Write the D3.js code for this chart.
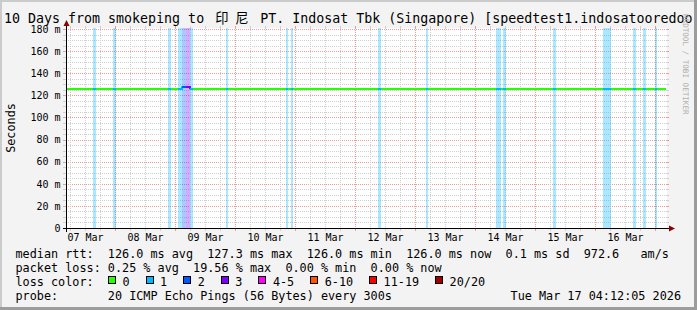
<!DOCTYPE html>
<html>
<head>
<meta charset="utf-8">
<script src="https://cdn.jsdelivr.net/npm/d3@7"></script>
<style>
    html, body { margin: 0; padding: 0; background: #f3f3f3; }
    svg { display: block; font-family: "DejaVu Sans Mono", monospace; }
</style>
</head>
<body>
<div id="chart"></div>
<script>
// Time range of the graph (10 days)
const startTime = '2026-03-07 04:12:05';
const endTime = '2026-03-17 04:12:05';

// Median rtt (ms), step changes
const rttTimes = ['2026-03-07 04:12:05', '2026-03-09 02:30:00', '2026-03-09 05:50:00', '2026-03-17 04:12:05'];
const rttValues = [126.0, 127.3, 126.0, 126.0];

// Packet loss periods (level = index into lossColors)
const lossStarts = [
    '2026-03-07 14:50:00', '2026-03-07 23:05:00', '2026-03-08 20:50:00', '2026-03-09 01:05:00',
    '2026-03-09 02:30:00', '2026-03-09 04:12:00', '2026-03-09 05:50:00', '2026-03-09 20:05:00',
    '2026-03-10 20:05:00', '2026-03-10 22:05:00', '2026-03-12 09:05:00', '2026-03-13 04:05:00',
    '2026-03-14 08:12:00', '2026-03-14 11:00:00', '2026-03-15 06:53:00', '2026-03-16 03:00:00',
    '2026-03-16 15:00:00', '2026-03-16 18:53:00', '2026-03-16 23:55:00'
];
const lossEnds = [
    '2026-03-07 16:05:00', '2026-03-08 00:05:00', '2026-03-08 22:10:00', '2026-03-09 02:30:00',
    '2026-03-09 04:12:00', '2026-03-09 05:50:00', '2026-03-09 06:53:00', '2026-03-09 20:53:00',
    '2026-03-10 21:00:00', '2026-03-10 22:53:00', '2026-03-12 10:12:00', '2026-03-13 05:00:00',
    '2026-03-14 10:12:00', '2026-03-14 12:12:00', '2026-03-15 08:05:00', '2026-03-16 06:05:00',
    '2026-03-16 16:12:00', '2026-03-16 20:05:00', '2026-03-17 00:43:00'
];
const lossLevels = [1, 1, 1, 1, 2, 3, 1, 1, 1, 1, 1, 1, 1, 1, 1, 1, 1, 1, 1];

// Loss colour legend
const lossLabels = ['0', '1', '2', '3', '4-5', '6-10', '11-19', '20/20'];
const lossColors = ['#26ff00', '#00b8ff', '#0059ff', '#7e00ff', '#ff00ff', '#ff5500', '#ff0000', '#a10000'];

// Axis ticks
const yTicks = [0, 20, 40, 60, 80, 100, 120, 140, 160, 180];
const yTickLabels = ['0', '20 m', '40 m', '60 m', '80 m', '100 m', '120 m', '140 m', '160 m', '180 m'];
const dayLabels = ['07 Mar', '08 Mar', '09 Mar', '10 Mar', '11 Mar', '12 Mar', '13 Mar', '14 Mar', '15 Mar', '16 Mar'];

// Legend text
const titleStart = '10 Days from smokeping to ';
const titleCjk = '印尼';
const titleEnd = ' PT. Indosat Tbk (Singapore) [speedtest1.indosatooredoo.com]';
const legendRows = [
    'median rtt:  126.0 ms avg  127.3 ms max  126.0 ms min  126.0 ms now  0.1 ms sd  972.6   am/s',
    'packet loss: 0.25 % avg  19.56 % max  0.00 % min  0.00 % now',
    'loss color:',
    'probe:       20 ICMP Echo Pings (56 Bytes) every 300s'
];
const dateStamp = 'Tue Mar 17 04:12:05 2026';

// Layout
const W = 697, H = 310;
const plot = { left: 66, right: 666, top: 29, bottom: 228 };
const charW = 7.1;

const parse = d3.timeParse('%Y-%m-%d %H:%M:%S');
const t0 = parse(startTime), t1 = parse(endTime);

const x = d3.scaleTime().domain([t0, t1]).range([plot.left, plot.right]);
const y = d3.scaleLinear().domain([0, 180]).range([plot.bottom, plot.top]);

const svg = d3.select('#chart').append('svg')
    .attr('width', W)
    .attr('height', H);

// Canvas background and shaded border
svg.append('rect').attr('width', W).attr('height', H).attr('fill', '#f3f3f3');

// Plot background
svg.append('rect')
    .attr('x', plot.left)
    .attr('y', plot.top - 1)
    .attr('width', plot.right - plot.left + 1)
    .attr('height', plot.bottom - plot.top + 1)
    .attr('fill', '#ffffff');

// Grid
const grid = svg.append('g').attr('shape-rendering', 'crispEdges');
const minorY = d3.range(0, 181, 5).filter(v => v % 20 !== 0);
const minorX = d3.timeHour.every(6).range(t0, t1).filter(d => d.getHours() !== 0);
const majorX = d3.timeDay.range(t0, t1);

function hLine(v, color) {
    const yy = Math.round(y(v)) + 0.5;
    grid.append('line').attr('x1', plot.left).attr('x2', plot.right + 1)
        .attr('y1', yy).attr('y2', yy)
        .attr('stroke', color).attr('stroke-dasharray', '1,1');
    grid.append('line').attr('x1', plot.left - 3).attr('x2', plot.left)
        .attr('y1', yy).attr('y2', yy).attr('stroke', color);
    grid.append('line').attr('x1', plot.right + 1).attr('x2', plot.right + 3)
        .attr('y1', yy).attr('y2', yy).attr('stroke', color);
}
function vLine(d, color) {
    const xx = Math.round(x(d)) + 0.5;
    grid.append('line').attr('x1', xx).attr('x2', xx)
        .attr('y1', plot.top - 1).attr('y2', plot.bottom)
        .attr('stroke', color).attr('stroke-dasharray', '1,1');
    grid.append('line').attr('x1', xx).attr('x2', xx)
        .attr('y1', plot.bottom).attr('y2', plot.bottom + 3).attr('stroke', color);
    grid.append('line').attr('x1', xx).attr('x2', xx)
        .attr('y1', plot.top - 3).attr('y2', plot.top - 1).attr('stroke', color);
}
minorY.forEach(v => hLine(v, '#cfcfcf'));
yTicks.forEach(v => hLine(v, '#f09a9a'));
minorX.forEach(d => vLine(d, '#cfcfcf'));
majorX.forEach(d => vLine(d, '#f09a9a'));

// Loss background bars
const lossData = lossStarts.map((s, i) => ({ s: parse(s), e: parse(lossEnds[i]), level: lossLevels[i] }));

svg.append('g').attr('class', 'loss-bars')
    .selectAll('rect')
    .data(lossData)
    .join('rect')
    .attr('x', d => Math.round(x(d.s)))
    .attr('width', d => Math.max(1, Math.round(x(d.e)) - Math.round(x(d.s))))
    .attr('y', plot.top - 1)
    .attr('height', plot.bottom - plot.top + 1)
    .attr('fill', d => lossColors[d.level])
    .attr('fill-opacity', 0.33)
    .attr('shape-rendering', 'crispEdges');

// Median rtt line
const rttData = rttTimes.map((t, i) => ({ t: parse(t), v: rttValues[i] }));
function rttAt(t) {
    let v = rttData[0].v;
    rttData.forEach(p => { if (p.t <= t) v = p.v; });
    return v;
}
const line = d3.line()
    .x(d => x(d.t))
    .y(d => Math.round(y(d.v)))
    .curve(d3.curveStepAfter);

svg.append('path')
    .datum(rttData)
    .attr('d', line)
    .attr('fill', 'none')
    .attr('stroke', lossColors[0])
    .attr('stroke-width', 2)
    .attr('shape-rendering', 'crispEdges');

// Loss-coloured segments of the median line
svg.append('g').selectAll('path')
    .data(lossData)
    .join('path')
    .attr('d', d => {
        const pts = [{ t: d.s, v: rttAt(d.s) }];
        rttData.forEach(p => { if (p.t > d.s && p.t < d.e) pts.push(p); });
        pts.push({ t: d.e, v: rttAt(d.e) });
        return line(pts);
    })
    .attr('fill', 'none')
    .attr('stroke', d => lossColors[d.level])
    .attr('stroke-width', 2)
    .attr('shape-rendering', 'crispEdges');

// Axes
const axisColor = '#000';
const arrowColor = '#8b0000';
svg.append('line')
    .attr('x1', plot.left + 0.5).attr('x2', plot.left + 0.5)
    .attr('y1', 25).attr('y2', plot.bottom + 4)
    .attr('stroke', axisColor);
svg.append('line')
    .attr('x1', plot.left - 3).attr('x2', 670)
    .attr('y1', plot.bottom + 0.5).attr('y2', plot.bottom + 0.5)
    .attr('stroke', axisColor);
svg.append('path')
    .attr('d', `M${plot.left + 0.5},20 L${plot.left + 3.5},26 L${plot.left - 2.5},26 Z`)
    .attr('fill', arrowColor);
svg.append('path')
    .attr('d', `M675,${plot.bottom + 0.5} L669,${plot.bottom - 2.5} L669,${plot.bottom + 3.5} Z`)
    .attr('fill', arrowColor);

// Y tick labels
svg.append('g').selectAll('text')
    .data(yTicks)
    .join('text')
    .attr('x', 60.5)
    .attr('y', d => y(d) + 3.8)
    .attr('text-anchor', 'end')
    .attr('font-size', 10)
    .attr('fill', '#000')
    .text((d, i) => yTickLabels[i]);

// X tick labels (centred at noon of each day)
const labelDays = d3.timeDay.range(d3.timeDay.floor(t0), t1).slice(0, dayLabels.length);
svg.append('g').selectAll('text')
    .data(labelDays)
    .join('text')
    .attr('x', d => x(d3.timeHour.offset(d, 12)))
    .attr('y', 241)
    .attr('text-anchor', 'middle')
    .attr('font-size', 10)
    .attr('fill', '#000')
    .text((d, i) => dayLabels[i]);

// Y axis title
svg.append('text')
    .attr('transform', 'translate(15,128) rotate(-90)')
    .attr('text-anchor', 'middle')
    .attr('font-size', 11.8)
    .attr('fill', '#000')
    .text('Seconds');

// Title
const title = svg.append('text')
    .attr('x', 4)
    .attr('y', 23)
    .attr('font-size', 13.3)
    .attr('fill', '#000')
    .attr('xml:space', 'preserve');
title.append('tspan').text(titleStart);
title.append('tspan')
    .attr('font-family', '"Noto Sans CJK SC", sans-serif')
    .attr('dx', 3)
    .attr('letter-spacing', 6.7)
    .text(titleCjk);
title.append('tspan').attr('dx', -3).text(titleEnd);

// Legend rows
const rowY = [257.5, 271.7, 285.9, 300];
svg.append('g').selectAll('text')
    .data(legendRows)
    .join('text')
    .attr('x', 15.5)
    .attr('y', (d, i) => rowY[i])
    .attr('font-size', 11.8)
    .attr('fill', '#000')
    .attr('xml:space', 'preserve')
    .text(d => d);

// Loss colour swatches
let lx = 108;
const swatches = svg.append('g');
lossLabels.forEach((lab, i) => {
    swatches.append('rect')
        .attr('x', lx + 0.5).attr('y', 276.5)
        .attr('width', 7).attr('height', 7)
        .attr('fill', lossColors[i])
        .attr('stroke', '#000')
        .attr('shape-rendering', 'crispEdges');
    swatches.append('text')
        .attr('x', lx + 14.5)
        .attr('y', rowY[2])
        .attr('font-size', 11.8)
        .attr('fill', '#000')
        .text(lab);
    lx = lx + 14.5 + lab.length * charW + 16;
});

// Date stamp
svg.append('text')
    .attr('x', 681)
    .attr('y', rowY[3])
    .attr('text-anchor', 'end')
    .attr('font-size', 11.8)
    .attr('fill', '#000')
    .text(dateStamp);

// Watermark
svg.append('text')
    .attr('transform', 'translate(683,14) rotate(90)')
    .attr('font-size', 7.6)
    .attr('fill', '#b0b0b0')
    .text('RRDTOOL / TOBI OETIKER');

// Shaded border
svg.append('rect').attr('x', 0).attr('y', 0).attr('width', W).attr('height', 2).attr('fill', '#cbcbcb');
svg.append('rect').attr('x', 0).attr('y', 0).attr('width', 2).attr('height', H).attr('fill', '#cbcbcb');
svg.append('rect').attr('x', W - 3).attr('y', 0).attr('width', 3).attr('height', H).attr('fill', '#9c9c9c');
svg.append('rect').attr('x', 0).attr('y', H - 3).attr('width', W).attr('height', 3).attr('fill', '#9c9c9c');
</script>
</body>
</html>
